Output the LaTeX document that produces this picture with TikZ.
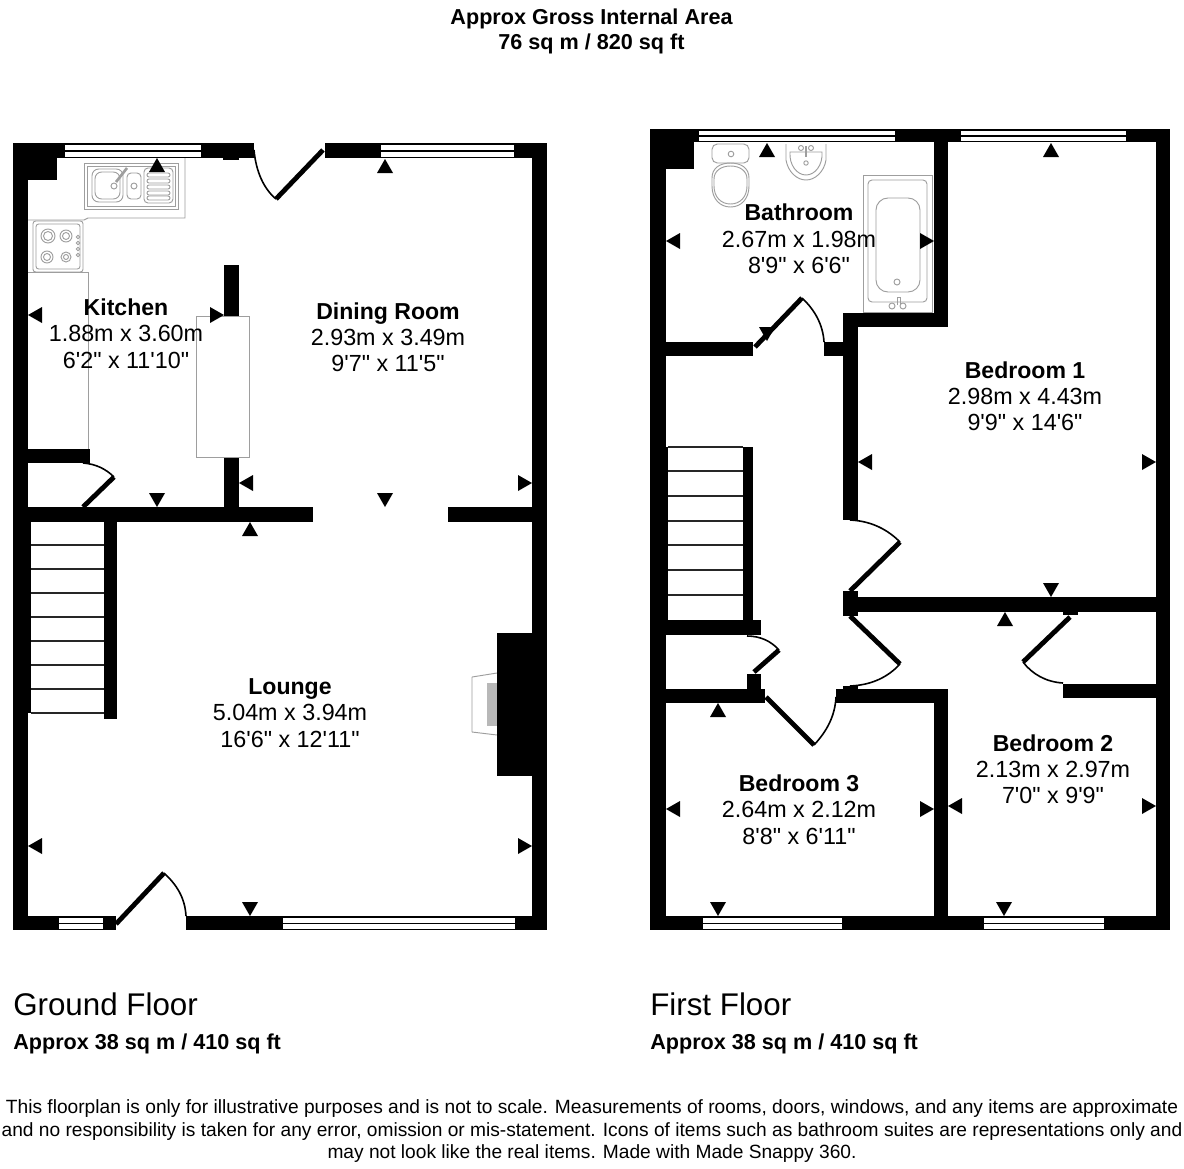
\documentclass[tikz,border=0pt]{standalone}
\usepackage{fontspec}
\setmainfont{Liberation Sans}
\newfontfamily\pf{Liberation Sans}
\newcommand{\wl}[4]{\fill[black] (#1,#2) rectangle (#3,#4);}
\newcommand{\win}[4]{\fill[white] (#1,#2+0.8) rectangle (#3,#4-0.8);\draw[black,line width=1pt] (#1,#2+0.5) -- (#3,#2+0.5) (#1,#2/2+#4/2) -- (#3,#2/2+#4/2) (#1,#4-0.5) -- (#3,#4-0.5) (#1,#2) -- (#1,#4) (#3,#2) -- (#3,#4);}
\newcommand{\aup}[2]{\fill[black] (#1,#2) -- (#1-8,#2+14) -- (#1+8,#2+14) -- cycle;}
\newcommand{\adn}[2]{\fill[black] (#1,#2) -- (#1-8,#2-14) -- (#1+8,#2-14) -- cycle;}
\newcommand{\alf}[2]{\fill[black] (#1,#2) -- (#1+14,#2-8) -- (#1+14,#2+8) -- cycle;}
\newcommand{\art}[2]{\fill[black] (#1,#2) -- (#1-14,#2-8) -- (#1-14,#2+8) -- cycle;}
\tikzset{x=0.75pt,y=-0.75pt,
 leaf/.style={draw=black,line width=3.6pt},
 swing/.style={draw=black,line width=1.2pt},
 fix/.style={draw=black!38,line width=0.7pt},
 tread/.style={draw=black!85,line width=1pt},
 rname/.style={font=\fontsize{17.3pt}{18pt}\selectfont\bfseries,inner sep=0,anchor=base,yshift=-6.2pt},
 rdim/.style={font=\pf\fontsize{17.5pt}{18pt}\selectfont,inner sep=0,anchor=base,yshift=-6.2pt},
 ttl/.style={font=\fontsize{16.2pt}{18pt}\selectfont\bfseries,inner sep=0,anchor=base,yshift=-6.2pt},
 flr/.style={font=\fontsize{23.5pt}{26pt}\selectfont,inner sep=0,anchor=base west,yshift=-8pt},
 sub/.style={font=\fontsize{16.2pt}{18pt}\selectfont\bfseries,inner sep=0,anchor=base west,yshift=-5.9pt},
 foot/.style={font=\fontsize{14.37pt}{17pt}\selectfont,inner sep=0,anchor=base,yshift=-5.2pt}}
\begin{document}
\begin{tikzpicture}
\useasboundingbox (0,0) rectangle (1184,1168);
\fill[white] (0,0) rectangle (1184,1168);
% ---------- GROUND FLOOR ----------
\wl{13}{143}{28}{930}
\wl{13}{143}{254}{158}\wl{325}{143}{547}{158}
\wl{13}{143}{57}{180}\wl{223}{158}{239}{160}
\wl{532}{143}{547}{930}
\wl{13}{916}{116}{930}\wl{186}{916}{547}{930}
\win{64}{144}{202}{158}\win{380}{144}{515}{158}
\win{58}{917}{104}{930}\win{282}{917}{516}{930}
% internal
\wl{28}{507}{313}{522}\wl{448}{507}{532}{522}
\wl{104}{522}{117}{719}\wl{13}{522}{31}{713}
\wl{28}{449}{90}{463}
\wl{224}{265}{239}{316}\wl{224}{457}{239}{507}
% fittings
\draw[fix] (196,316) rectangle (249,457);
\draw[fix] (28,272) -- (88,272) -- (88,449);
\draw[fix] (185,158) -- (185,218) -- (88,218) -- (84,220) -- (28,220);
\draw[fix] (84,163) rectangle (178,209);
\draw[fix] (87,166) rectangle (175,206);
\draw[fix,rounded corners=5pt] (92,169) rectangle (123,202);
\draw[fix,rounded corners=5pt] (95,172) rectangle (120,199);
\draw[fix,rounded corners=3pt] (127,173) rectangle (141,199);
\draw[fix] (134,186) circle (3);
\draw[fix] (114,186) circle (3);
\draw[fix,line width=2pt] (116,182) -- (127,168);
\draw[fix,rounded corners=3pt] (144,168) rectangle (173,203);
\foreach \y in {174,180,186,192,197}{\draw[fix,rounded corners=1.5pt] (147,\y-1) rectangle (170,\y+3);}
\draw[fix,rounded corners=2pt] (33,221) rectangle (83,272);
\draw[fix,rounded corners=2pt] (36,224) rectangle (80,269);
\foreach \a/\b/\r in {48/236/7,66/236/6,47/257/6,66/257/5}{\draw[fix] (\a,\b) circle (\r);\draw[fix] (\a,\b) circle (\r-2.5);}
\foreach \y in {237,243,249,255}{\draw[fix] (78,\y) circle (1.8);}
\draw[fix] (472,677) -- (497,673) (472,732) -- (497,735) (472,677) -- (472,732);
\fill[black!28] (487,683) rectangle (497,726);
\wl{497}{633}{532}{776}
% stairs
\foreach \y in {545,569,593,617,641,665,689,713}{\draw[tread] (31,\y) -- (104,\y);}
% doors
\draw[leaf] (323,150) -- (276,199);
\draw[swing] (276,199) .. controls (264,189) and (256,172) .. (254,150);
\draw[leaf] (83,507) -- (114,477);
\draw[swing] (114,477) .. controls (106,469) and (96,464) .. (83,463);
\draw[leaf] (116,924) -- (164,873);
\draw[swing] (164,873) .. controls (177,885) and (185,898) .. (186,916);
% markers
\aup{157}{158}\aup{385}{159}\alf{28}{315}\art{224}{315}\adn{157}{507}\alf{239}{483}
\aup{250}{522}\adn{385}{507}\art{532}{483}\alf{28}{846}\art{532}{846}\adn{250}{916}
% ---------- FIRST FLOOR ----------
\wl{650}{129}{666}{930}\wl{650}{129}{694}{169}
\wl{650}{129}{1170}{142}\wl{1156}{129}{1170}{930}
\wl{650}{916}{1170}{930}
\win{698}{130}{896}{142}\win{960}{130}{1127}{142}
\win{702}{917}{843}{930}\win{983}{917}{1105}{930}
\wl{934}{129}{948}{327}\wl{843}{313}{948}{327}
\wl{843}{313}{858}{520}
\wl{666}{342}{753}{356}\wl{824}{342}{843}{356}
\wl{650}{447}{668}{620}
\wl{743}{447}{753}{620}
\wl{666}{620}{761}{635}
\wl{747}{674}{761}{689}
\wl{666}{689}{765}{703}\wl{836}{689}{948}{703}\wl{843}{686}{858}{689}
\wl{934}{689}{948}{930}
\wl{843}{591}{858}{616}\wl{858}{597}{1156}{612}\wl{1063}{612}{1078}{615}
\wl{1063}{684}{1156}{698}
% stairs
\foreach \y in {447,471,496,521,545,570,595}{\draw[tread] (668,\y) -- (743,\y);}
% doors
\draw[leaf] (755,347) -- (802,298);
\draw[swing] (802,298) .. controls (815,310) and (823,325) .. (824,342);
\draw[leaf] (754,672) -- (779,650);
\draw[swing] (779,650) .. controls (771,641) and (760,636) .. (747,636);
\draw[leaf] (766,697) -- (814,745);
\draw[swing] (814,745) .. controls (827,731) and (835,716) .. (836,697);
\draw[leaf] (850,591) -- (900,542);
\draw[swing] (900,542) .. controls (888,530) and (872,521) .. (850,520);
\draw[leaf] (850,616) -- (900,664);
\draw[swing] (900,664) .. controls (888,677) and (872,685) .. (850,686);
\draw[leaf] (1070,617) -- (1023,662);
\draw[swing] (1023,662) .. controls (1032,674) and (1046,682) .. (1063,683);
% bathroom fittings
\draw[fix] (863,175) rectangle (932,312);
\draw[fix,rounded corners=3pt] (868,180) rectangle (927,302);
\draw[fix,rounded corners=9pt] (876,198) rectangle (920,292);
\draw[fix] (897,282) circle (3);
\draw[fix] (897,305) -- (897,297) (900,305) -- (900,297) (897,297) -- (900,297);
\draw[fix] (892,306) circle (3);\draw[fix] (903,306) circle (3);
\draw[fix,rounded corners=4pt] (712,144) rectangle (749,163);
\draw[fix] (731,154) circle (2.8);
\draw[fix] (712,178) .. controls (712,168) and (720,163) .. (730.5,163) .. controls (741,163) and (749,168) .. (749,178) -- (749,186) .. controls (749,199) and (741,207) .. (730.5,207) .. controls (720,207) and (712,199) .. (712,186) -- cycle;
\draw[fix] (714,179) .. controls (714,171) and (721,166) .. (730.5,166) .. controls (740,166) and (747,171) .. (747,179) -- (747,186) .. controls (747,197) and (740,204) .. (730.5,204) .. controls (721,204) and (714,197) .. (714,186) -- cycle;
\draw[fix] (786,144) -- (786,160) .. controls (788,172) and (797,180) .. (806,180) .. controls (815,180) and (824,172) .. (826,160) -- (826,144);
\draw[fix] (790,152) .. controls (789,165) and (797,175) .. (806,175) .. controls (815,175) and (823,165) .. (822,152) -- cycle;
\draw[fix] (806,163) circle (2.2);
\draw[fix,line width=1.4pt] (806,146) -- (806,157);
\draw[fix] (801,148) circle (2.5);\draw[fix] (811,148) circle (2.5);
% markers
\aup{767}{143}\aup{1051}{143}\adn{767}{341}\alf{666}{241}\art{934}{241}
\alf{858}{462}\art{1156}{462}\adn{1051}{597}\aup{1005}{612}
\alf{948}{806}\art{1156}{806}\adn{1004}{916}
\aup{718}{703}\alf{666}{809}\art{934}{809}\adn{718}{916}
% ---------- TEXT ----------
\node[ttl] (t1) at (591.5,16) {Approx Gross Internal Area};
\node[ttl] (t2) at (591.5,41) {76 sq m / 820 sq ft};
\node[rname] (kn) at (126,307) {Kitchen};
\node[rdim] (kd) at (126,333) {1.88m x 3.60m};
\node[rdim] (ki) at (126,360) {6'2" x 11'10"};
\node[rname] (dn) at (388,311) {Dining Room};
\node[rdim] (dd) at (388,337) {2.93m x 3.49m};
\node[rdim] (di) at (388,363) {9'7" x 11'5"};
\node[rname] (ln) at (290,686) {Lounge};
\node[rdim] (ld) at (290,712) {5.04m x 3.94m};
\node[rdim] (li) at (290,739) {16'6" x 12'11"};
\node[rname] (bn) at (799,212) {Bathroom};
\node[rdim] (bd) at (799,239) {2.67m x 1.98m};
\node[rdim] (bi) at (799,265) {8'9" x 6'6"};
\node[rname] (b1n) at (1025,370) {Bedroom 1};
\node[rdim] (b1d) at (1025,396) {2.98m x 4.43m};
\node[rdim] (b1i) at (1025,422) {9'9" x 14'6"};
\node[rname] (b2n) at (1053,743) {Bedroom 2};
\node[rdim] (b2d) at (1053,769) {2.13m x 2.97m};
\node[rdim] (b2i) at (1053,795) {7'0" x 9'9"};
\node[rname] (b3n) at (799,783) {Bedroom 3};
\node[rdim] (b3d) at (799,809) {2.64m x 2.12m};
\node[rdim] (b3i) at (799,836) {8'8" x 6'11"};
\node[flr] (gf) at (13,1005) {Ground Floor};
\node[sub] (gs) at (13,1042) {Approx 38 sq m / 410 sq ft};
\node[flr] (ff) at (650,1005) {First Floor};
\node[sub] (fs) at (650,1042) {Approx 38 sq m / 410 sq ft};
\node[foot] (f1) at (592,1107) {This floorplan is only for illustrative purposes and is not to scale. Measurements of rooms, doors, windows, and any items are approximate};
\node[foot] (f2) at (592,1130) {and no responsibility is taken for any error, omission or mis-statement. Icons of items such as bathroom suites are representations only and};
\node[foot] (f3) at (592,1152) {may not look like the real items. Made with Made Snappy 360.};
\end{tikzpicture}
\end{document}
